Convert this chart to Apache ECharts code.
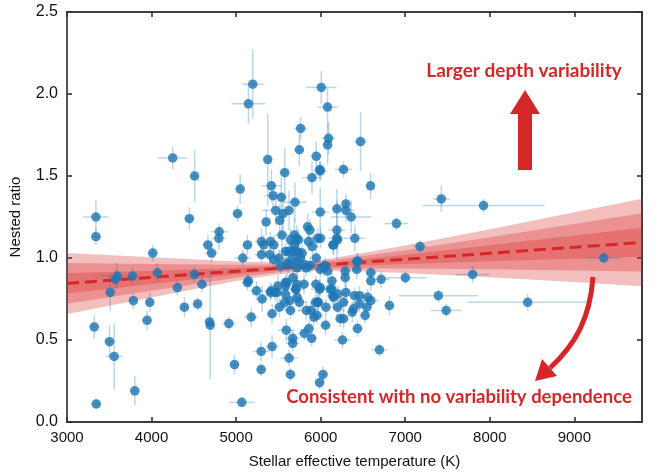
<!DOCTYPE html>
<html>
<head>
<meta charset="utf-8">
<script src="https://cdn.jsdelivr.net/npm/echarts@6/dist/echarts.min.js"></script>
<style>
  html, body { margin: 0; padding: 0; background: #fff; }
  #chart { width: 660px; height: 474px; }
</style>
</head>
<body>
<div id="chart"></div>
<script>
// star points: temperature (K), nested ratio, and their error bars
var temps = [5197,5146,6007,6081,4250,4509,3342,3342,4447,4800,5017,5048,5374,5417,5437,5535,5575,5468,5555,5626,
  5516,5696,5355,5763,5748,5948,5897,5995,5990,5995,5846,5873,6093,6082,5543,5689,6471,6270,6590,6192,
  6298,6298,6361,6192,6404,6896,7426,7926,4014,4069,3775,3594,3574,3511,3785,3979,4305,4506,4596,4388,
  4545,3947,3322,3503,3558,3802,3346,4686,4694,4914,4666,4710,4796,5079,5134,5134,5145,5241,5308,5178,
  4981,5067,5296,5425,5296,5300,5398,5406,5414,5425,5484,5496,5512,5575,5594,5626,5642,5669,5669,5642,
  5602,5583,5704,5803,5748,5721,5807,5862,5893,5830,5885,5920,5956,5940,5972,5944,5987,5987,6027,6058,
  6062,6145,6192,7175,6427,6440,6290,6427,6593,6593,6715,7001,7797,9348,6133,6290,6133,6145,6204,6298,
  6400,6459,6557,6593,7392,7484,8448,6813,6270,6199,6459,6546,6388,6373,6526,6231,6270,6435,6258,6695,
  5963,5998,5716,5645,5736,5857,6199,5327,5445,5300,5901,6152,5585,5620,5660,5700,5740,5780,5689,5948,
  5445,5508,5759,5803,5877,6054,5621,5602,5661,5720,6035,6082,5995,5830,5720,5524,5583,5673,5720,5995,
  5708,5406,5457,5583,6113,6152,5963,5634];
var ratios = [2.06,1.94,2.04,1.92,1.61,1.50,1.25,1.13,1.24,1.16,1.27,1.42,1.60,1.44,1.38,1.37,1.52,1.29,1.27,1.29,
  1.23,1.34,1.22,1.79,1.66,1.62,1.49,1.53,1.54,1.28,1.19,1.17,1.73,1.69,1.14,1.14,1.71,1.54,1.44,1.30,
  1.33,1.29,1.25,1.17,1.12,1.21,1.36,1.32,1.03,0.91,0.89,0.89,0.87,0.79,0.74,0.73,0.82,0.90,0.84,0.70,
  0.72,0.62,0.58,0.49,0.40,0.19,0.11,0.61,0.59,0.60,1.08,1.03,1.12,1.00,1.08,0.85,0.86,0.80,0.75,0.64,
  0.35,0.12,0.43,0.46,0.32,1.10,1.02,1.10,0.80,0.66,0.79,0.83,0.70,0.73,0.56,0.39,0.29,0.51,0.48,0.68,
  0.85,0.83,0.81,0.84,0.73,0.76,0.54,0.57,0.51,0.68,0.68,0.64,0.65,0.73,0.73,0.84,0.81,0.24,0.29,0.59,
  0.70,1.08,1.12,1.07,0.98,0.98,0.92,0.93,0.91,0.86,0.87,0.88,0.90,1.00,0.86,0.88,0.81,0.77,0.78,0.79,
  0.77,0.77,0.76,0.74,0.77,0.68,0.73,0.71,0.73,0.70,0.72,0.70,0.69,0.67,0.65,0.63,0.63,0.57,0.50,0.44,
  1.12,1.12,1.12,1.11,1.11,1.10,1.11,1.08,1.08,1.02,1.07,1.08,1.04,1.04,1.04,1.04,1.035,1.03,1.08,1.00,
  0.99,1.00,1.00,0.96,0.955,0.955,0.96,0.97,0.99,0.98,0.94,0.92,0.93,0.94,0.94,0.95,0.85,0.88,0.84,0.82,
  0.81,0.79,0.79,0.78,0.81,0.76,0.73,0.74];
var tempErr = [130,200,180,120,175,40,150,60,60,100,60,50,40,120,100,60,60,160,60,60,
  50,140,40,80,60,60,120,80,60,100,60,60,80,60,80,80,80,100,40,60,
  40,100,240,100,120,140,100,720,60,50,60,200,60,60,60,50,60,60,60,40,
  60,60,60,60,100,60,60,60,50,80,60,80,80,100,60,70,50,80,60,80,
  60,150,100,80,60,80,60,60,80,60,60,70,60,60,100,100,60,80,80,60,
  60,60,100,60,80,60,80,60,60,100,60,60,80,60,60,60,100,60,60,60,
  60,60,100,80,60,60,60,60,60,60,100,250,200,200,60,60,60,80,100,60,
  60,60,60,100,470,180,710,60,60,60,60,60,60,60,60,60,60,60,100,100,
  60,60,80,60,60,80,60,60,60,80,60,60,80,60,60,60,60,60,60,60,
  60,60,60,60,60,60,60,60,60,60,60,60,60,60,60,60,60,60,60,60,
  60,60,60,60,60,60,60,60];
var ratioErr = [0.21,0.12,0.10,0.12,0.07,0.16,0.10,0.05,0.07,0.05,0.05,0.09,0.28,0.10,0.08,0.12,0.15,0.09,0.10,0.12,
  0.10,0.12,0.08,0.07,0.10,0.09,0.10,0.06,0.05,0.15,0.08,0.07,0.10,0.12,0.09,0.10,0.18,0.05,0.08,0.12,
  0.06,0.07,0.10,0.18,0.08,0.04,0.08,0.04,0.05,0.06,0.05,0.08,0.06,0.11,0.05,0.06,0.05,0.05,0.05,0.06,
  0.04,0.06,0.07,0.10,0.20,0.09,0.03,0.05,0.33,0.04,0.06,0.06,0.07,0.05,0.06,0.05,0.04,0.06,0.08,0.06,
  0.06,0.03,0.06,0.07,0.04,0.08,0.06,0.06,0.05,0.06,0.06,0.07,0.06,0.05,0.07,0.05,0.04,0.05,0.05,0.05,
  0.06,0.05,0.07,0.06,0.06,0.05,0.04,0.05,0.05,0.06,0.05,0.05,0.05,0.06,0.07,0.05,0.06,0.04,0.05,0.06,
  0.05,0.06,0.05,0.04,0.05,0.05,0.06,0.06,0.04,0.06,0.05,0.04,0.05,0.03,0.05,0.06,0.05,0.06,0.05,0.06,
  0.05,0.06,0.05,0.04,0.04,0.04,0.05,0.06,0.06,0.05,0.05,0.06,0.05,0.06,0.05,0.05,0.06,0.05,0.05,0.04,
  0.06,0.06,0.08,0.07,0.07,0.06,0.07,0.06,0.06,0.05,0.06,0.06,0.05,0.06,0.05,0.05,0.06,0.05,0.06,0.05,
  0.05,0.05,0.06,0.05,0.05,0.05,0.05,0.05,0.05,0.05,0.05,0.05,0.05,0.05,0.05,0.05,0.05,0.05,0.05,0.05,
  0.05,0.05,0.05,0.05,0.05,0.05,0.05,0.05];

// linear fit and its 1-sigma spread, read at a few temperatures
var fitTemps = [3000,4000,5000,5500,5800,6000,6500,7000,8000,9000,9800];
var fitRatio = [0.845,0.882,0.919,0.937,0.948,0.955,0.974,0.992,1.029,1.066,1.095];
var fitSigma = [0.062,0.041,0.020,0.012,0.010,0.011,0.019,0.028,0.049,0.071,0.089];

var xTicks = [3000,4000,5000,6000,7000,8000,9000];
var yTicks = [0.0,0.5,1.0,1.5,2.0,2.5];

var red = '#d62728';
var points = temps.map(function (t, i) { return [t, ratios[i], tempErr[i], ratioErr[i]]; });

function bandSeries(k, z) {
  return {
    type: 'custom',
    z: z,
    silent: true,
    data: fitTemps.map(function (t, i) { return [t, fitRatio[i]]; }),
    encode: { x: 0, y: 1 },
    renderItem: function (params, api) {
      if (params.dataIndex !== 0) return;
      var pts = [];
      for (var i = 0; i < fitTemps.length; i++) {
        pts.push(api.coord([fitTemps[i], fitRatio[i] + k * fitSigma[i]]));
      }
      for (var j = fitTemps.length - 1; j >= 0; j--) {
        pts.push(api.coord([fitTemps[j], fitRatio[j] - k * fitSigma[j]]));
      }
      return { type: 'polygon', shape: { points: pts }, style: { fill: 'rgba(214,39,40,0.3)' } };
    }
  };
}

var chart = echarts.init(document.getElementById('chart'));
var axisFont = { fontFamily: 'Liberation Sans', fontSize: 15, color: '#111' };
var lineStyle = { color: '#333', width: 1.6 };

chart.setOption({
  animation: false,
  grid: { left: 66, right: 18, top: 12, bottom: 49, show: true, borderColor: '#333', borderWidth: 1.6 },
  xAxis: [{
    type: 'value', min: 3000, max: 9800, interval: 1000,
    name: 'Stellar effective temperature (K)', nameLocation: 'middle', nameGap: 32,
    nameTextStyle: axisFont,
    axisLine: { show: true, onZero: false, lineStyle: lineStyle },
    axisTick: { show: true, inside: true, length: 5, lineStyle: lineStyle },
    axisLabel: Object.assign({ margin: 8, showMaxLabel: false,
      formatter: function (v) { return xTicks.indexOf(v) >= 0 ? String(v) : ''; } }, axisFont),
    splitLine: { show: false }
  }, {
    type: 'value', position: 'top', min: 3000, max: 9800, interval: 1000,
    axisLine: { show: true, onZero: false, lineStyle: lineStyle },
    axisTick: { show: true, inside: true, length: 5, lineStyle: lineStyle },
    axisLabel: { show: false }, splitLine: { show: false }
  }],
  yAxis: [{
    type: 'value', min: 0, max: 2.5, interval: 0.5,
    name: 'Nested ratio', nameLocation: 'middle', nameGap: 44,
    nameTextStyle: axisFont,
    axisLine: { show: true, onZero: false, lineStyle: { color: '#555', width: 2 } },
    axisTick: { show: true, inside: true, length: 5, lineStyle: lineStyle },
    axisLabel: Object.assign({}, axisFont, { margin: 9, fontSize: 16,
      formatter: function (v) { return yTicks.indexOf(v) >= 0 ? v.toFixed(1) : ''; } }),
    splitLine: { show: false }
  }, {
    type: 'value', position: 'right', min: 0, max: 2.5, interval: 0.5,
    axisLine: { show: true, onZero: false, lineStyle: lineStyle },
    axisTick: { show: true, inside: true, length: 5, lineStyle: lineStyle },
    axisLabel: { show: false }, splitLine: { show: false }
  }],
  series: [
    bandSeries(3, 1),
    bandSeries(2, 1),
    bandSeries(1, 1),
    {
      type: 'line', z: 2, silent: true, symbol: 'none',
      data: fitTemps.map(function (t, i) { return [t, fitRatio[i]]; }),
      lineStyle: { color: red, width: 3, type: [12, 6] }
    },
    {
      type: 'custom', z: 3, silent: true,
      data: points,
      encode: { x: 0, y: 1 },
      renderItem: function (params, api) {
        var x = api.value(0), y = api.value(1), ex = api.value(2), ey = api.value(3);
        var l = api.coord([x - ex, y]), r = api.coord([x + ex, y]);
        var b = api.coord([x, y - ey]), t = api.coord([x, y + ey]);
        var st = { stroke: 'rgba(31,119,180,0.3)', lineWidth: 1.5 };
        return { type: 'group', children: [
          { type: 'line', shape: { x1: l[0], y1: l[1], x2: r[0], y2: r[1] }, style: st },
          { type: 'line', shape: { x1: b[0], y1: b[1], x2: t[0], y2: t[1] }, style: st }
        ] };
      }
    },
    {
      type: 'scatter', z: 4, symbolSize: 9.5,
      data: points.map(function (p) { return [p[0], p[1]]; }),
      itemStyle: { color: '#1f77b4', opacity: 0.82 }
    }
  ],
  graphic: [
    { type: 'text', z: 10,
      style: { text: 'Larger depth variability', x: 524, y: 71, align: 'center', verticalAlign: 'middle',
        fill: red, font: 'bold 19px Lato' } },
    { type: 'polygon', z: 10,
      shape: { points: [[518,170],[532,170],[532,114],[540,114],[525,90],[510,114],[518,114]] },
      style: { fill: red } },
    { type: 'bezierCurve', z: 10,
      shape: { x1: 593, y1: 277, cpx1: 590, cpy1: 318, cpx2: 576, cpy2: 344, x2: 550, y2: 368 },
      style: { stroke: red, lineWidth: 5, fill: null } },
    { type: 'polygon', z: 10,
      shape: { points: [[535,381],[542,359],[557,376]] },
      style: { fill: red } },
    { type: 'text', z: 10,
      style: { text: 'Consistent with no variability dependence', x: 459, y: 397, align: 'center',
        verticalAlign: 'middle', fill: red, font: 'bold 18.5px Lato' } }
  ]
});
</script>
</body>
</html>
